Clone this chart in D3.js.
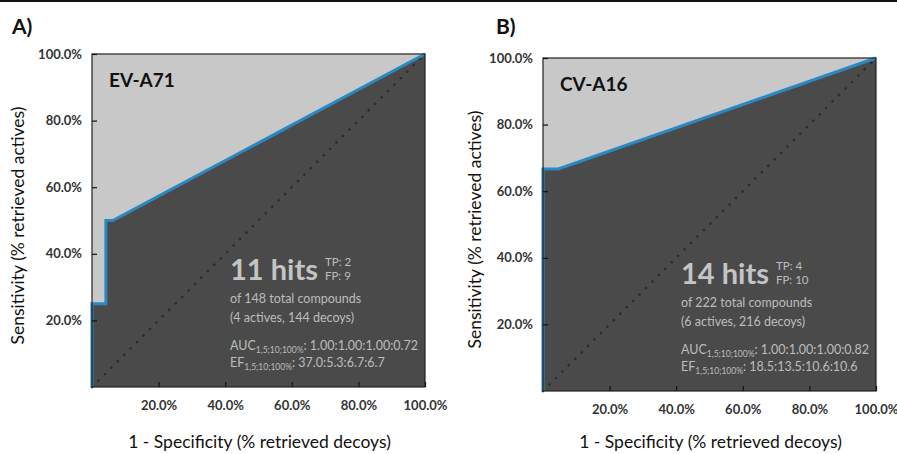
<!DOCTYPE html>
<html>
<head>
<meta charset="utf-8">
<script src="https://cdn.jsdelivr.net/npm/d3@7"></script>
<style>
  html, body { margin: 0; padding: 0; background: #fff; }
  svg { display: block; font-family: Lato, "Open Sans", sans-serif; }
</style>
</head>
<body>
<div id="chart"></div>
<script>
// data
var panelLetters = ["A)", "B)"];
var targets = ["EV-A71", "CV-A16"];

// ROC points, x = 1 - specificity (%), y = sensitivity (%)
var rocA_fpr = [0, 0, 4.17, 4.17, 6.25, 100];
var rocA_tpr = [0, 25, 25, 50, 50, 100];
var rocB_fpr = [0, 0, 4.63, 100];
var rocB_tpr = [0, 66.7, 66.7, 100];

var hits = [11, 14];
var truePos = [2, 4];
var falsePos = [9, 10];
var totals = [148, 222];
var actives = [4, 6];
var decoys = [144, 216];
var aucValues = ["1.00:1.00:1.00:0.72", "1.00:1.00:1.00:0.82"];
var efValues = ["37.0:5.3:6.7:6.7", "18.5:13.5:10.6:10.6"];

var tickValues = [20, 40, 60, 80, 100];

var W = 897, H = 454;

var svg = d3.select("#chart").append("svg")
  .attr("width", W)
  .attr("height", H);

svg.append("rect").attr("width", W).attr("height", H).attr("fill", "#fff");

// thin black rule across the top
svg.append("rect").attr("x", 0).attr("y", 0).attr("width", W).attr("height", 2).attr("fill", "#111");

// pixel frames of the two plot boxes
var frames = [
  { left: 92, right: 425, top: 54, bottom: 387, letterX: 12, yTitleX: 24 },
  { left: 543, right: 876, top: 58, bottom: 391, letterX: 496, yTitleX: 481 }
];

var rocs = [
  d3.zip(rocA_fpr, rocA_tpr),
  d3.zip(rocB_fpr, rocB_tpr)
];

frames.forEach(function(f, i) {
  drawPanel(f, i);
});

function drawPanel(f, i) {
  var x = d3.scaleLinear().domain([0, 100]).range([f.left, f.right]);
  var y = d3.scaleLinear().domain([0, 100]).range([f.bottom, f.top]);
  var pts = rocs[i];

  // panel letter
  svg.append("text")
    .attr("x", f.letterX)
    .attr("y", 34)
    .attr("font-size", 21)
    .attr("font-weight", "bold")
    .attr("fill", "#111")
    .text(panelLetters[i]);

  // light background = area above the curve
  svg.append("rect")
    .attr("x", x(0)).attr("y", y(100))
    .attr("width", x(100) - x(0)).attr("height", y(0) - y(100))
    .attr("fill", "#c8c8c8");

  // dark area under the ROC curve
  var area = d3.area()
    .x(function(d) { return x(d[0]); })
    .y0(y(0))
    .y1(function(d) { return y(d[1]); });
  svg.append("path")
    .datum(pts)
    .attr("d", area)
    .attr("fill", "#4a4a4a");

  // random-classifier diagonal
  svg.append("line")
    .attr("x1", x(0)).attr("y1", y(0))
    .attr("x2", x(100)).attr("y2", y(100))
    .attr("stroke", "#2c2c2c")
    .attr("stroke-width", 2.6)
    .attr("stroke-linecap", "round")
    .attr("stroke-dasharray", "0.1,9");

  // ROC curve
  var line = d3.line()
    .x(function(d) { return x(d[0]); })
    .y(function(d) { return y(d[1]); });
  svg.append("path")
    .datum(pts)
    .attr("d", line)
    .attr("fill", "none")
    .attr("stroke", "#2a88c2")
    .attr("stroke-width", 3);

  // frame
  svg.append("rect")
    .attr("x", x(0)).attr("y", y(100))
    .attr("width", x(100) - x(0)).attr("height", y(0) - y(100))
    .attr("fill", "none")
    .attr("stroke", "#222")
    .attr("stroke-width", 1.2);

  // axes, ticks pointing inward
  var xAxis = d3.axisBottom(x)
    .tickValues(tickValues)
    .tickSize(-5)
    .tickPadding(12)
    .tickFormat(function(d) { return d.toFixed(1) + "%"; });
  var gx = svg.append("g")
    .attr("transform", "translate(0," + y(0) + ")")
    .call(xAxis);

  var yAxis = d3.axisLeft(y)
    .tickValues(tickValues)
    .tickSize(-5)
    .tickPadding(10)
    .tickFormat(function(d) { return d.toFixed(1) + "%"; });
  var gy = svg.append("g")
    .attr("transform", "translate(" + x(0) + ",0)")
    .call(yAxis);

  [gx, gy].forEach(function(g) {
    g.select(".domain").remove();
    g.selectAll(".tick line").attr("stroke", "#111").attr("stroke-width", 1.2);
    g.selectAll(".tick text")
      .attr("font-family", "Lato, sans-serif")
      .attr("font-size", 13)
      .attr("font-weight", "bold")
      .attr("fill", "#333");
  });
  gx.selectAll(".tick text").attr("dy", "0.85em");

  // axis titles
  svg.append("text")
    .attr("x", (x(0) + x(100)) / 2 + 1)
    .attr("y", 448)
    .attr("text-anchor", "middle")
    .attr("font-size", 17.5)
    .attr("fill", "#111")
    .text("1 - Specificity (% retrieved decoys)");

  svg.append("text")
    .attr("transform", "translate(" + f.yTitleX + "," + (y(50) + 5) + ") rotate(-90)")
    .attr("text-anchor", "middle")
    .attr("font-size", 17.5)
    .attr("fill", "#111")
    .text("Sensitivity (% retrieved actives)");

  // target name
  svg.append("text")
    .attr("x", x(0) + 17)
    .attr("y", y(100) + 33)
    .attr("font-size", 19)
    .attr("font-weight", "bold")
    .attr("fill", "#111")
    .text(targets[i]);

  // annotation block
  var ax = x(0) + 138, ay = y(100);
  var col = "#bdbdbd";
  var hitsText = svg.append("text")
    .attr("x", ax)
    .attr("y", ay + 226)
    .attr("font-size", 29)
    .attr("font-weight", "bold")
    .attr("fill", "#c4c4c4")
    .text(hits[i] + " hits");
  var hw = hitsText.node().getComputedTextLength();

  svg.append("text")
    .attr("x", ax + hw + 7).attr("y", ay + 212)
    .attr("font-size", 11.5).attr("fill", col)
    .text("TP: " + truePos[i]);
  svg.append("text")
    .attr("x", ax + hw + 7).attr("y", ay + 226)
    .attr("font-size", 11.5).attr("fill", col)
    .text("FP: " + falsePos[i]);

  svg.append("text")
    .attr("x", ax).attr("y", ay + 249)
    .attr("font-size", 12.5).attr("fill", col)
    .text("of " + totals[i] + " total compounds");
  svg.append("text")
    .attr("x", ax).attr("y", ay + 268)
    .attr("font-size", 12.5).attr("fill", col)
    .text("(" + actives[i] + " actives, " + decoys[i] + " decoys)");

  var auc = svg.append("text")
    .attr("x", ax).attr("y", ay + 296)
    .attr("font-size", 12.5).attr("fill", col);
  auc.append("tspan").text("AUC");
  auc.append("tspan").attr("font-size", 8.5).attr("dy", 3).text("1,5;10;100%");
  auc.append("tspan").attr("dy", -3).text(": " + aucValues[i]);

  var ef = svg.append("text")
    .attr("x", ax).attr("y", ay + 313)
    .attr("font-size", 12.5).attr("fill", col);
  ef.append("tspan").text("EF");
  ef.append("tspan").attr("font-size", 8.5).attr("dy", 3).text("1,5;10;100%");
  ef.append("tspan").attr("dy", -3).text(": " + efValues[i]);
}
</script>
</body>
</html>
